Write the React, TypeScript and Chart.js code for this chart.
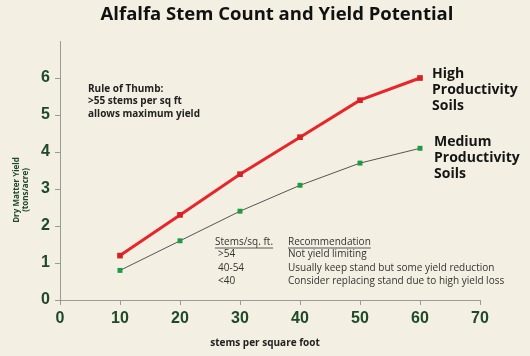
import React, { useEffect, useRef } from "react";
import { Chart, registerables } from "chart.js";

Chart.register(...registerables);

const stems = [10, 20, 30, 40, 50, 60];
const highYield = [1.2, 2.3, 3.4, 4.4, 5.4, 6.0];
const mediumYield = [0.8, 1.6, 2.4, 3.1, 3.7, 4.1];
const seriesNames = ["High Productivity Soils", "Medium Productivity Soils"];
const title = "Alfalfa Stem Count and Yield Potential";
const xTitle = "stems per square foot";
const yTitle = ["Dry Matter Yield", "(tons/acre)"];
const ruleOfThumb = ["Rule of Thumb:", ">55 stems per sq ft", "allows maximum yield"];
const tableHeader = ["Stems/sq. ft.", "Recommendation"];
const tableRows = [
  [">54", "Not yield limiting"],
  ["40-54", "Usually keep stand but some yield reduction"],
  ["<40", "Consider replacing stand due to high yield loss"],
];

const BG = "#f3efe2";
const GREEN_TEXT = "#1f4a28";

const textPlugin = {
  id: "annotText",
  beforeDraw(chart: any) {
    const ctx = chart.ctx;
    ctx.save();
    ctx.fillStyle = BG;
    ctx.fillRect(0, 0, chart.width, chart.height);
    ctx.restore();
  },
  afterDraw(chart: any) {
    const ctx = chart.ctx;
    ctx.save();
    // title
    ctx.fillStyle = "#111";
    ctx.font = "bold 18.5px 'Open Sans'";
    ctx.textAlign = "center";
    ctx.textBaseline = "middle";
    ctx.fillText(title, 277, 15);

    // x title
    ctx.font = "bold 10px 'Open Sans'";
    ctx.fillStyle = "#222";
    ctx.fillText(xTitle, 265, 343);

    // y title
    ctx.save();
    ctx.translate(21, 190);
    ctx.rotate(-Math.PI / 2);
    ctx.font = "bold 8px 'Open Sans'";
    ctx.fillStyle = GREEN_TEXT;
    ctx.fillText(yTitle[0], 0, -4);
    ctx.fillText(yTitle[1], 0, 5);
    ctx.restore();

    // rule of thumb
    ctx.textAlign = "left";
    ctx.fillStyle = "#222";
    ctx.font = "bold 10px 'Open Sans'";
    ruleOfThumb.forEach((t, i) => ctx.fillText(t, 88, 89 + i * 12.5));

    // series labels
    ctx.font = "bold 14px 'Open Sans'";
    ctx.fillStyle = "#151515";
    ["High", "Productivity", "Soils"].forEach((t, i) => ctx.fillText(t, 432, 74 + i * 16));
    ["Medium", "Productivity", "Soils"].forEach((t, i) => ctx.fillText(t, 434, 142 + i * 16));

    // table
    ctx.font = "10px 'Open Sans'";
    ctx.fillStyle = "#333";
    const hy = 242;
    ctx.fillText(tableHeader[0], 215, hy);
    ctx.fillText(tableHeader[1], 288, hy);
    ctx.strokeStyle = "#333";
    ctx.lineWidth = 0.8;
    const w0 = ctx.measureText(tableHeader[0]).width;
    const w1 = ctx.measureText(tableHeader[1]).width;
    ctx.beginPath();
    ctx.moveTo(215, hy + 6);
    ctx.lineTo(215 + w0, hy + 6);
    ctx.moveTo(288, hy + 6);
    ctx.lineTo(288 + w1, hy + 6);
    ctx.stroke();
    tableRows.forEach((r, i) => {
      const y = 254.5 + i * 13.5;
      ctx.fillText(r[0], 218, y);
      ctx.fillText(r[1], 288, y);
    });
    ctx.restore();
  },
};

export default function App() {
  const ref = useRef<HTMLCanvasElement>(null);
  useEffect(() => {
    document.body.style.margin = "0";
    const chart = new Chart(ref.current!, {
      type: "line",
      data: {
        datasets: [
          {
            label: seriesNames[0],
            data: stems.map((x, i) => ({ x, y: highYield[i] })),
            borderColor: "#e8262a",
            backgroundColor: "#d81f23",
            borderWidth: 3,
            pointStyle: "rect",
            pointRadius: 4,
            pointBorderWidth: 0,
            tension: 0,
          },
          {
            label: seriesNames[1],
            data: stems.map((x, i) => ({ x, y: mediumYield[i] })),
            borderColor: "#555",
            backgroundColor: "#1e9a45",
            borderWidth: 1,
            pointStyle: "rect",
            pointRadius: 3.5,
            pointBorderWidth: 0,
            tension: 0,
          },
        ],
      },
      options: {
        animation: false,
        responsive: false,
        layout: { padding: { left: 0, right: 50, top: 41, bottom: 0 } },
        plugins: { legend: { display: false }, tooltip: { enabled: false } },
        scales: {
          x: {
            type: "linear",
            min: 0,
            max: 70,
            afterFit: (s: any) => {
              s.height = 56;
            },
            border: { color: "#9a9a9a", width: 1 },
            grid: { drawOnChartArea: false, tickLength: 5, color: "#9a9a9a" },
            ticks: {
              stepSize: 10,
              padding: 4,
              color: GREEN_TEXT,
              font: { family: "'Liberation Sans'", size: 16, weight: "bold" },
            },
          },
          y: {
            min: 0,
            max: 7,
            afterFit: (s: any) => {
              s.width = 60;
            },
            border: { color: "#9a9a9a", width: 1 },
            grid: { drawOnChartArea: false, tickLength: 5, color: "#9a9a9a" },
            ticks: {
              stepSize: 1,
              padding: 5,
              color: GREEN_TEXT,
              font: { family: "'Liberation Sans'", size: 16, weight: "bold" },
              callback: (v: any) => (v === 7 ? null : String(v)),
            },
          },
        },
      },
      plugins: [textPlugin],
    } as any);
    return () => chart.destroy();
  }, []);
  return (
    <div style={{ position: "absolute", left: 0, top: 0, width: 530, height: 356 }}>
      <canvas ref={ref} width={530} height={356} />
    </div>
  );
}
